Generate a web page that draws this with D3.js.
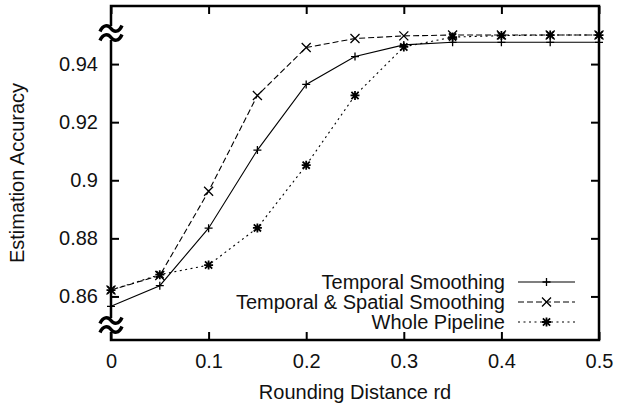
<!DOCTYPE html>
<html>
<head>
<meta charset="utf-8">
<script src="https://cdn.jsdelivr.net/npm/d3@7"></script>
<style>
  body { margin: 0; background: #fff; }
  svg { display: block; font-family: "Liberation Sans", Arial, sans-serif; }
</style>
</head>
<body>
<div id="chart"></div>
<script>
// rounding distances on the x axis
const rd = [0, 0.05, 0.1, 0.15, 0.2, 0.25, 0.3, 0.35, 0.4, 0.45, 0.5]

// accuracy per method
const temporal = [0.8566, 0.8637, 0.8835, 0.9104, 0.9330, 0.9426, 0.9466, 0.9475, 0.9475, 0.9475, 0.9475]
const spatial  = [0.8622, 0.8672, 0.8962, 0.9292, 0.9457, 0.9488, 0.9497, 0.9500, 0.9500, 0.9500, 0.9500]
const pipeline = [0.8622, 0.8675, 0.8708, 0.8836, 0.9052, 0.9292, 0.9459, 0.9493, 0.9498, 0.9500, 0.9500]

const seriesNames = ["Temporal Smoothing", "Temporal & Spatial Smoothing", "Whole Pipeline"]

const xTicks = [0, 0.1, 0.2, 0.3, 0.4, 0.5]
const yTicks = [0.86, 0.88, 0.9, 0.92, 0.94]

const width = 617, height = 407
const plotLeft = 111, plotRight = 599, plotTop = 6, plotBottom = 340

const svg = d3.select("#chart").append("svg")
    .attr("width", width)
    .attr("height", height)

const x = d3.scaleLinear().domain([0, 0.5]).range([plotLeft, plotRight])
const y = d3.scaleLinear().domain([0.845, 0.96]).range([plotBottom, plotTop])

const fontSize = "20px"

// axes (ticks point inwards, mirrored like gnuplot)
const tickLen = 8
svg.append("g")
    .attr("transform", `translate(0,${plotBottom})`)
    .call(d3.axisBottom(x).tickValues(xTicks).tickSize(-tickLen).tickPadding(14)
        .tickFormat(d => d === 0 ? "0" : d3.format(".1f")(d)))
svg.append("g")
    .attr("transform", `translate(0,${plotTop})`)
    .call(d3.axisTop(x).tickValues(xTicks).tickSize(-tickLen).tickFormat(""))
svg.append("g")
    .attr("transform", `translate(${plotLeft},0)`)
    .call(d3.axisLeft(y).tickValues(yTicks).tickSize(-tickLen).tickPadding(13)
        .tickFormat(d => String(+d.toFixed(2))))
svg.append("g")
    .attr("transform", `translate(${plotRight},0)`)
    .call(d3.axisRight(y).tickValues(yTicks).tickSize(-tickLen).tickFormat(""))

svg.selectAll(".domain").remove()
svg.selectAll(".tick line").attr("stroke", "#000").attr("stroke-width", 2)
svg.selectAll(".tick text").attr("fill", "#111").style("font-size", fontSize)

// border
svg.append("rect")
    .attr("x", plotLeft).attr("y", plotTop)
    .attr("width", plotRight - plotLeft).attr("height", plotBottom - plotTop)
    .attr("fill", "none").attr("stroke", "#000").attr("stroke-width", 2.5)

// axis break marks on the left axis
const breakAt = [33, 325]
const wave = "M-11,3 C-8,-4 -3,-4 0,0 S8,4 11,-3"
breakAt.forEach(by => {
    const g = svg.append("g").attr("transform", `translate(${plotLeft},${by})`)
    g.append("rect").attr("x", -3).attr("y", -7).attr("width", 6).attr("height", 14).attr("fill", "#fff")
    g.selectAll("path").data([-4.5, 4.5]).join("path")
        .attr("d", wave)
        .attr("transform", d => `translate(0,${d})`)
        .attr("fill", "none").attr("stroke", "#000").attr("stroke-width", 3.4)
})

// markers
function marker(type, s) {
    const p = `M${-s},0H${s}M0,${-s}V${s}`
    const xx = `M${-s},${-s}L${s},${s}M${-s},${s}L${s},${-s}`
    if (type === "plus") return p
    if (type === "cross") return xx
    return p + `M${-s*0.8},${-s*0.8}L${s*0.8},${s*0.8}M${-s*0.8},${s*0.8}L${s*0.8},${-s*0.8}`
}

const series = [
    { name: seriesNames[0], values: temporal, dash: null, mark: "plus", size: 4 },
    { name: seriesNames[1], values: spatial, dash: "6,3", mark: "cross", size: 4.5 },
    { name: seriesNames[2], values: pipeline, dash: "2,3.5", mark: "star", size: 4.5 }
]

const line = d3.line().x((d, i) => x(rd[i])).y(d => y(d))

series.forEach(s => {
    svg.append("path")
        .attr("d", line(s.values))
        .attr("fill", "none")
        .attr("stroke", "#000")
        .attr("stroke-width", 1.1)
        .attr("stroke-dasharray", s.dash)
    svg.append("g").selectAll("path")
        .data(s.values)
        .join("path")
        .attr("transform", (d, i) => `translate(${x(rd[i])},${y(d)})`)
        .attr("d", marker(s.mark, s.size))
        .attr("stroke", "#000")
        .attr("stroke-width", s.mark === "star" ? 1.8 : 1.3)
        .attr("fill", "none")
})

// legend
const legend = svg.append("g")
series.forEach((s, i) => {
    const ly = 282 + i * 20
    legend.append("text")
        .attr("x", 505).attr("y", ly)
        .attr("dy", "0.35em")
        .attr("text-anchor", "end")
        .style("font-size", fontSize)
        .attr("fill", "#111")
        .text(s.name)
    legend.append("path")
        .attr("d", `M518,${ly}H575`)
        .attr("stroke", "#000").attr("stroke-width", 1.1)
        .attr("stroke-dasharray", s.dash)
    legend.append("path")
        .attr("transform", `translate(546.5,${ly})`)
        .attr("d", marker(s.mark, s.size))
        .attr("stroke", "#000")
        .attr("stroke-width", s.mark === "star" ? 1.8 : 1.3)
        .attr("fill", "none")
})

// axis titles
svg.append("text")
    .attr("x", (plotLeft + plotRight) / 2).attr("y", 392)
    .attr("dy", "0.35em")
    .attr("text-anchor", "middle")
    .style("font-size", fontSize)
    .attr("fill", "#111")
    .text("Rounding Distance rd")

svg.append("text")
    .attr("transform", `translate(17,${(plotTop + plotBottom) / 2}) rotate(-90)`)
    .attr("dy", "0.35em")
    .attr("text-anchor", "middle")
    .style("font-size", fontSize)
    .attr("fill", "#111")
    .text("Estimation Accuracy")
</script>
</body>
</html>
